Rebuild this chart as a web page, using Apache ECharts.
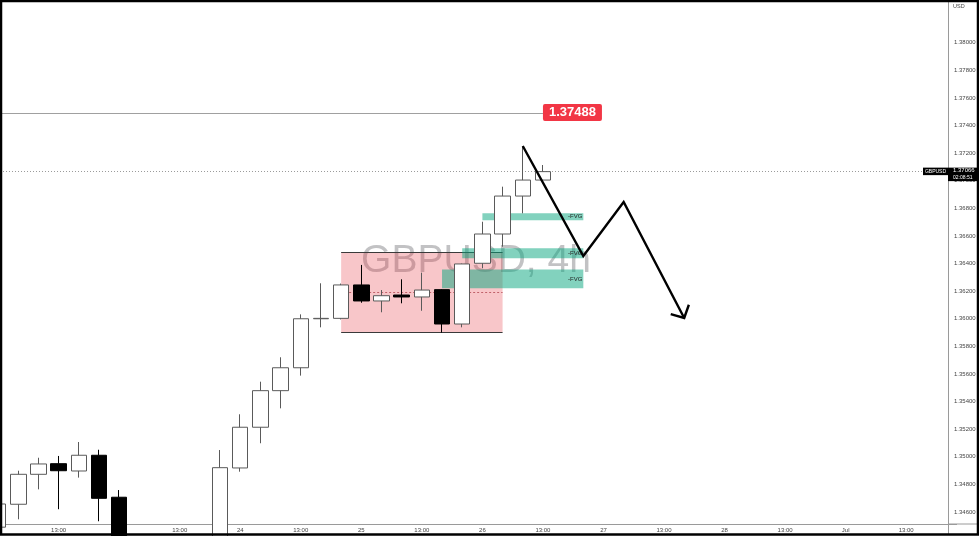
<!DOCTYPE html>
<html><head><meta charset="utf-8">
<script src="https://cdn.jsdelivr.net/npm/echarts@6/dist/echarts.min.js"></script>
<style>html,body{margin:0;padding:0;background:#fff}#c{width:979px;height:536px}</style>
</head><body><div id="c"></div>
<script>
// ---- data ----
const days = ['20','21','24','25','26','27','28','Jul'];
const hours = ['01','05','09','13','17','21'];
const candleOpen  = [1.34490,1.34656,1.34873,1.34950,1.34897,1.35011,1.34707,1.34400,1.34280,1.34360,1.34300,1.34420,1.34919,1.35214,1.35479,1.35645,1.36000,1.36003,1.36245,1.36129,1.36172,1.36158,1.36211,1.35962,1.36402,1.36614,1.36889,1.37005];
const candleClose = [1.34658,1.34873,1.34948,1.34899,1.35011,1.34699,1.34400,1.34280,1.34360,1.34300,1.34420,1.34921,1.35214,1.35479,1.35645,1.36000,1.36003,1.36245,1.36129,1.36167,1.36158,1.36208,1.35962,1.36397,1.36614,1.36889,1.37005,1.37066];
const candleLow   = [1.34450,1.34547,1.34764,1.34620,1.34849,1.34533,1.34320,1.34200,1.34220,1.34250,1.34260,1.34380,1.34892,1.35098,1.35351,1.35588,1.35938,1.35995,1.36116,1.36047,1.36112,1.36058,1.35899,1.35938,1.36366,1.36522,1.36764,1.37000];
const candleHigh  = [1.34668,1.34899,1.34993,1.35006,1.35107,1.35051,1.34759,1.34460,1.34440,1.34470,1.34480,1.35049,1.35308,1.35544,1.35721,1.36032,1.36257,1.36255,1.36390,1.36208,1.36286,1.36334,1.36215,1.36400,1.36703,1.36957,1.37247,1.37114];
const yTicks = [1.346,1.348,1.350,1.352,1.354,1.356,1.358,1.360,1.362,1.364,1.366,1.368,1.370,1.372,1.374,1.376,1.378,1.380];
const lastPrice = 1.37066;
const countdown = '02:08:51';
const levelPrice = 1.37488;
const zoneFrom = 17, zoneTo = 25;
const zoneTop = 1.36484, zoneBottom = 1.35904, zoneMid = 1.36192;
const fvgFrom = [24, 23, 22];
const fvgTo = [29, 29, 29];
const fvgTop = [1.36764, 1.36511, 1.36357];
const fvgBottom = [1.36713, 1.36438, 1.36221];
const fvgLabel = '-FVG';
const arrowX = [26, 29, 31, 34];
const arrowY = [1.37252, 1.36455, 1.36846, 1.36006];
const symbolTitle = 'GBPUSD, 4h';
const symbolName = 'GBPUSD';
const currency = 'USD';

// ---- build ----
const categories = days.flatMap(d => hours.map(h => d + ' ' + h + ':00'));
function xLabel(v) {
  const parts = v.split(' ');
  if (parts[1] === '01:00') return parts[0];
  if (parts[1] === '13:00') return '13:00';
  return '';
}
const candleData = candleOpen.map((o, i) => [o, candleClose[i], candleLow[i], candleHigh[i]]);
const FONT = 'Liberation Sans';
const firstCat = categories[0], lastCat = categories[categories.length - 1];

const chart = echarts.init(document.getElementById('c'), null, {renderer: 'canvas'});
const option = {
  animation: false,
  backgroundColor: '#ffffff',
  grid: {left: -12, right: 22.36, top: 2, bottom: 12, containLabel: false, outerBoundsMode: 'none'},
  xAxis: {
    type: 'category', data: categories, boundaryGap: true,
    axisLine: {show: true, lineStyle: {color: '#9a9a9a', width: 1}},
    axisTick: {show: false}, splitLine: {show: false},
    axisLabel: {interval: 0, formatter: xLabel, fontSize: 6, color: '#444', margin: 3, fontFamily: FONT}
  },
  yAxis: {
    type: 'value', position: 'right', offset: -8.64, min: 1.34513, max: 1.38295, scale: true,
    axisLine: {show: true, lineStyle: {color: '#9a9a9a', width: 1}},
    axisTick: {show: false}, splitLine: {show: false},
    axisLabel: {customValues: yTicks, formatter: v => Number(v).toFixed(5), fontSize: 6, color: '#444', margin: 6, fontFamily: FONT}
  },
  series: [
    {
      type: 'line', data: [], silent: true,
      markArea: {
        z: 1, silent: true,
        itemStyle: {color: 'rgba(230,60,70,0.29)', borderWidth: 0},
        data: [[{coord: [categories[zoneFrom], zoneTop]}, {coord: [categories[zoneTo], zoneBottom]}]]
      },
      markLine: {
        z: 1.2, silent: true, symbol: 'none', label: {show: false},
        lineStyle: {color: '#3a3a3a', width: 1, type: 'solid'},
        data: [
          [{coord: [firstCat, lastPrice], x: 0, lineStyle: {color: '#9b9b9b', type: [1, 2], width: 1}}, {coord: [lastCat, lastPrice]}],
          [{coord: [categories[zoneFrom], zoneTop]}, {coord: [categories[zoneTo], zoneTop]}],
          [{coord: [categories[zoneFrom], zoneBottom]}, {coord: [categories[zoneTo], zoneBottom]}],
          [{coord: [categories[zoneFrom], zoneMid], lineStyle: {color: '#c0626a', type: [2, 2], width: 1}}, {coord: [categories[zoneTo], zoneMid]}]
        ]
      }
    },
    {
      type: 'line', data: [], silent: true,
      markArea: {
        z: 1.5, silent: true,
        itemStyle: {color: 'rgba(5,165,125,0.5)', borderWidth: 0},
        label: {show: true, position: 'insideRight', distance: 1, fontSize: 6, color: '#222', fontFamily: FONT, formatter: '{b}'},
        data: fvgFrom.map((f, i) => [{name: fvgLabel, coord: [categories[f], fvgTop[i]]}, {coord: [categories[fvgTo[i]], fvgBottom[i]]}])
      }
    },
    {
      type: 'candlestick', z: 2, data: candleData, barWidth: 16, clip: true, silent: true,
      itemStyle: {color: '#ffffff', color0: '#000000', borderColor: '#5a5a5a', borderColor0: '#000000', borderWidth: 1},
      markLine: {
        z: 1.1, silent: true, symbol: 'none',
        data: [
          [
            {coord: [firstCat, levelPrice], lineStyle: {color: '#a0a0a0', type: 'solid', width: 1},
             label: {show: true, position: 'end', distance: 0, formatter: levelPrice.toFixed(5),
                     backgroundColor: '#f23645', color: '#ffffff', fontWeight: 'bold', fontSize: 13,
                     fontFamily: FONT, padding: [2, 6, 2, 6], borderRadius: 2, offset: [0, -1]}},
            {coord: [categories[27], levelPrice]}
          ]
        ]
      }
    },
    {
      type: 'custom', z: 3, silent: true, clip: false,
      data: [[arrowX[0], arrowY[0]]],
      renderItem: function (params, api) {
        if (params.dataIndex !== 0) return;
        const pts = arrowX.map((x, i) => api.coord([x, arrowY[i]]));
        const P = pts[pts.length - 1], Q = pts[pts.length - 2];
        const back = Math.atan2(Q[1] - P[1], Q[0] - P[0]);
        const L = 14, a = 0.82;
        const w1 = [P[0] + L * Math.cos(back + a), P[1] + L * Math.sin(back + a)];
        const w2 = [P[0] + L * Math.cos(back - a), P[1] + L * Math.sin(back - a)];
        return {
          type: 'group',
          children: [
            {type: 'polyline', shape: {points: pts}, style: {stroke: '#000', lineWidth: 2.4, fill: 'none', lineJoin: 'miter'}},
            {type: 'polyline', shape: {points: [w1, P, w2]}, style: {stroke: '#000', lineWidth: 2.4, fill: 'none', lineJoin: 'miter'}}
          ]
        };
      }
    }
  ]
};
chart.setOption(option);

// price-scale labels, positioned from the axis scale
const py = chart.convertToPixel({yAxisIndex: 0}, lastPrice);
const axisX = 948;
chart.setOption({
  graphic: [
    {type: 'text', x: 476, y: 261, z: 0, silent: true,
     style: {text: symbolTitle, fontSize: 39, fontFamily: FONT, fill: 'rgba(110,110,115,0.42)', align: 'center', verticalAlign: 'middle'}},
    {type: 'rect', z: 20, silent: true, shape: {x: axisX - 25, y: py - 4, width: 25, height: 7.5}, style: {fill: '#000'}},
    {type: 'text', z: 21, silent: true, x: axisX - 12.5, y: py - 0.3,
     style: {text: symbolName, fontSize: 5, fontFamily: FONT, fill: '#fff', align: 'center', verticalAlign: 'middle'}},
    {type: 'rect', z: 20, silent: true, shape: {x: axisX, y: py - 4, width: 29, height: 13.5}, style: {fill: '#000'}},
    {type: 'text', z: 21, silent: true, x: axisX + 5, y: py - 1,
     style: {text: lastPrice.toFixed(5), fontSize: 6, fontFamily: FONT, fill: '#fff', align: 'left', verticalAlign: 'middle'}},
    {type: 'text', z: 21, silent: true, x: axisX + 5, y: py + 5.5,
     style: {text: countdown, fontSize: 5, fontFamily: FONT, fill: '#fff', align: 'left', verticalAlign: 'middle'}},
    {type: 'text', z: 21, silent: true, x: axisX + 5, y: 6,
     style: {text: currency, fontSize: 5.5, fontFamily: FONT, fill: '#444', align: 'left', verticalAlign: 'middle'}},
    {type: 'line', z: 20, silent: true, shape: {x1: axisX, y1: 524, x2: 979, y2: 524}, style: {stroke: '#9a9a9a', lineWidth: 1}},
    {type: 'line', z: 20, silent: true, shape: {x1: axisX + 0.5, y1: 524, x2: axisX + 0.5, y2: 534}, style: {stroke: '#9a9a9a', lineWidth: 1}},
    {type: 'rect', z: 30, silent: true, shape: {x: 1, y: 1, width: 977, height: 533.5}, style: {stroke: '#000', lineWidth: 2.5, fill: 'none'}}
  ]
});
</script>
</body></html>
